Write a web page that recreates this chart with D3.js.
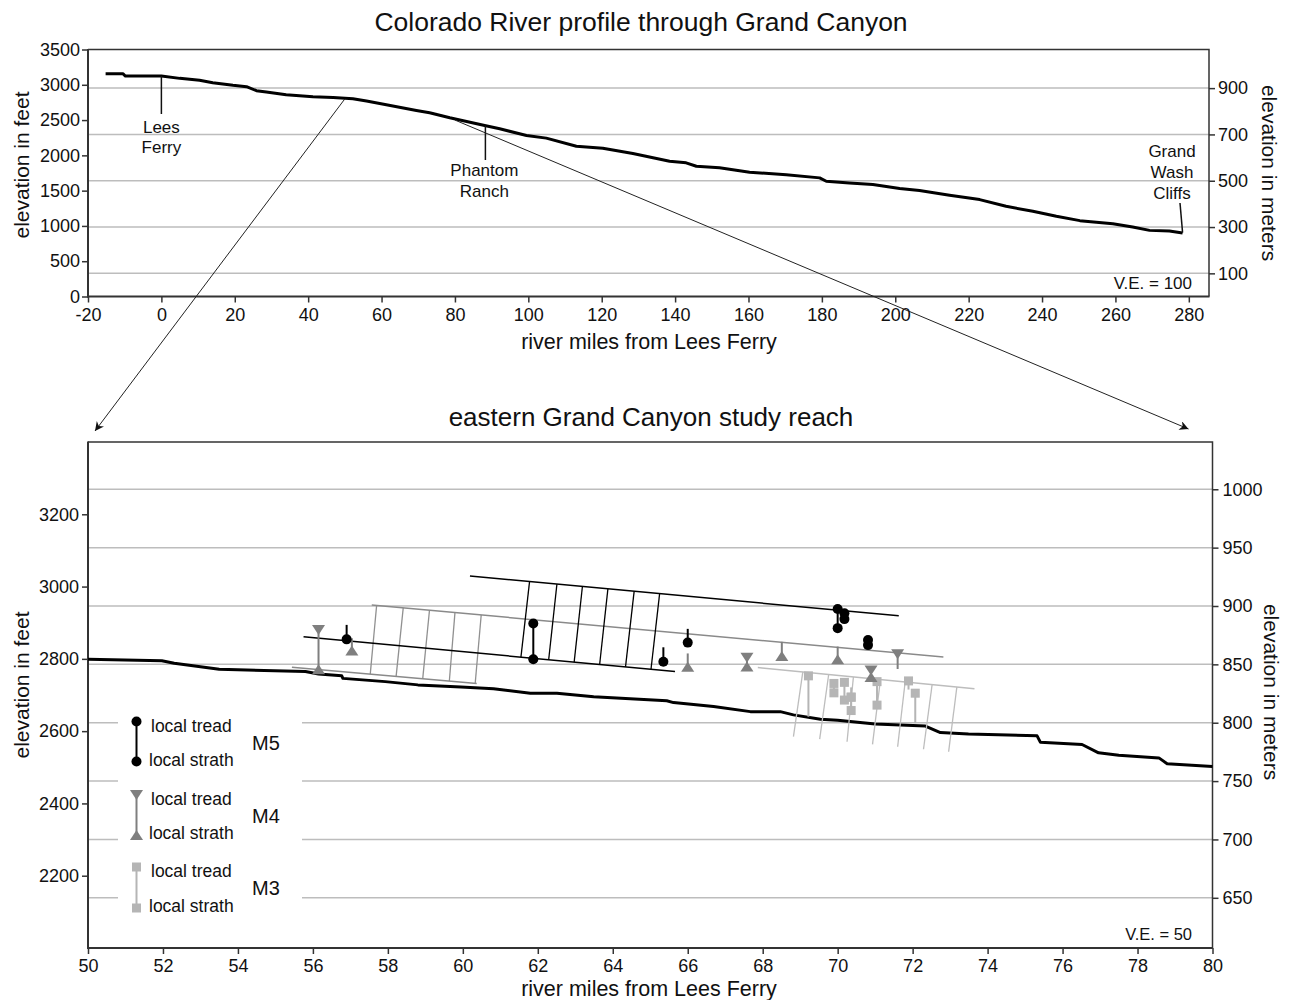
<!DOCTYPE html>
<html><head><meta charset="utf-8">
<script src="https://cdn.jsdelivr.net/npm/d3@7"></script>
<style>
body{margin:0;background:#fff;}
svg{display:block;}
text{font-family:"Liberation Sans",Arial,Helvetica,sans-serif;fill:#111;}
</style>
</head><body>
<svg id="c" width="1290" height="1000"></svg>
<script>
// ---------------- DATA ----------------
// Top chart: river profile through Grand Canyon (river mile, elevation ft)
const profileMiles = [-15.2,-10.5,-9.8,0,5,10.4,14,19.5,23.2,25.9,28.6,34,41.3,46.8,52.2,55.9,61.3,69.5,73.1,78.6,88.1,92.2,99.5,104.9,113.1,120.3,128.5,138.5,143,145.8,152.1,160.3,170.3,179.4,181.2,187.5,193.9,201.2,206.6,214.8,223,230.2,237.5,243.9,250.3,259.3,264.7,269.3,274.7,278.3];
const profileFeet  = [3157,3157,3124,3124,3091,3063,3030,2992,2973,2916,2897,2859,2831,2821,2803,2769,2718,2637,2604,2533,2424,2376,2282,2244,2130,2102,2026,1917,1894,1846,1823,1761,1724,1681,1633,1610,1586,1529,1501,1434,1373,1278,1207,1136,1075,1032,985,937,928,900];
const profileXTicks = [-20,0,20,40,60,80,100,120,140,160,180,200,220,240,260,280];
const profileFeetTicks = [0,500,1000,1500,2000,2500,3000,3500];
const profileMeterTicks = [100,300,500,700,900];

// Bottom chart: eastern Grand Canyon study reach
const reachMiles = [50,51.97,52.3,53.5,55.8,56.15,56.77,56.8,57.93,58.8,59.95,60.82,61.8,62.51,63.49,65.44,65.62,66.69,67.67,68.47,68.82,69.54,70.0,71.0,72.34,72.74,73.49,75.32,75.41,76.52,76.96,77.5,78.57,78.79,80.0];
const reachFeet  = [2799,2795,2788,2771,2765,2758,2753,2746,2737,2728,2722,2717,2705,2705,2695,2684,2679,2668,2654,2654,2645,2633,2630,2620,2614,2596,2592,2587,2569,2563,2540,2533,2526,2510,2502];
const reachXTicks = [50,52,54,56,58,60,62,64,66,68,70,72,74,76,78,80];
const reachFeetTicks = [2200,2400,2600,2800,3000,3200];
const reachMeterTicks = [650,700,750,800,850,900,950,1000];

// Terrace surfaces: [mile, feet] endpoints
const m5TreadLine  = [[60.19,3029],[71.63,2919]];
const m5StrathLine = [[55.75,2861],[65.66,2765]];
const m5HatchTop    = [61.78,62.51,63.19,63.87,64.57,65.25];
const m5HatchBottom = [61.55,62.29,62.97,63.65,64.34,65.02];

const m4TreadLine  = [[57.57,2949],[72.82,2805]];
const m4StrathLine = [[55.44,2777],[60.37,2732]];
const m4HatchTop    = [57.70,58.41,59.11,59.79,60.49];
const m4HatchBottom = [57.53,58.22,58.93,59.64,60.33];

const m3TreadLine  = [[67.87,2776],[73.65,2717]];
const m3BaseLine   = [[68.82,2585],[72.96,2543]];
const m3HatchTop    = [69.07,69.76,70.42,71.14,71.80,72.52,73.18];
const m3HatchBottom = [68.82,69.52,70.25,70.93,71.60,72.29,72.96];

// Local measurements: top = tread value, bottom = strath value, mark = which ends carry a symbol
const m5Points = [
  {mile:56.90, top:2894, bottom:2854, mark:"bottom"},
  {mile:61.88, top:2898, bottom:2799, mark:"both"},
  {mile:65.35, top:2832, bottom:2792, mark:"bottom"},
  {mile:66.00, top:2883, bottom:2845, mark:"bottom"},
  {mile:70.00, top:2938, bottom:2885, mark:"both"},
  {mile:70.18, top:2926, bottom:2910, mark:"both"},
  {mile:70.81, top:2852, bottom:2838, mark:"both"}
];
const m4Points = [
  {mile:56.15, top:2880, bottom:2771, mark:"both"},
  {mile:57.04, top:2857, bottom:2823, mark:"bottom"},
  {mile:66.00, top:2815, bottom:2778, mark:"bottom"},
  {mile:67.58, top:2803, bottom:2779, mark:"both"},
  {mile:68.51, top:2847, bottom:2808, mark:"bottom"},
  {mile:70.00, top:2834, bottom:2799, mark:"bottom"},
  {mile:70.89, top:2768, bottom:2750, mark:"both"},
  {mile:71.60, top:2813, bottom:2772, mark:"top"}
];
const m3Points = [
  {mile:69.22, top:2753, bottom:2640, mark:"top"},
  {mile:69.90, top:2732, bottom:2706, mark:"both"},
  {mile:70.18, top:2735, bottom:2686, mark:"both"},
  {mile:70.36, top:2721, bottom:2694, mark:"bottom"},
  {mile:70.36, top:2694, bottom:2657, mark:"both"},
  {mile:71.05, top:2737, bottom:2672, mark:"both"},
  {mile:71.89, top:2739, bottom:2715, mark:"top"},
  {mile:72.07, top:2705, bottom:2622, mark:"top"}
];

// ---------------- DRAW ----------------
const svg = d3.select("#c");
svg.append("rect").attr("width",1290).attr("height",1000).attr("fill","#fff");
const AX = "#333", GRID = "#bdbdbd";
const plain = d => String(d);

svg.append("defs").append("marker")
  .attr("id","arr").attr("viewBox","0 0 10 10").attr("refX",10).attr("refY",5)
  .attr("markerWidth",11).attr("markerHeight",9).attr("markerUnits","userSpaceOnUse")
  .attr("orient","auto")
  .append("path").attr("d","M0,0 L10,5 L0,10 L3,5 Z").attr("fill","#111");

function styleAxis(g, fs){
  g.select(".domain").remove();
  g.selectAll(".tick line").attr("stroke",AX).attr("stroke-width",1.5);
  g.selectAll(".tick text").attr("font-size",fs).attr("fill","#111")
   .style("font-family","'Liberation Sans',Arial,sans-serif");
}

// ===== TOP CHART =====
const xT = d3.scaleLinear([-20,285.5],[88,1209]);
const yT = d3.scaleLinear([0,3500],[296.5,49.5]);
const yTm = d3.scaleLinear([0,3500/3.28084],[296.5,49.5]);

const gTop = svg.append("g");
gTop.selectAll("line.grid").data(profileMeterTicks).enter().append("line")
  .attr("x1",88).attr("x2",1209).attr("y1",d=>yTm(d)).attr("y2",d=>yTm(d))
  .attr("stroke",GRID).attr("stroke-width",1.5);

gTop.append("g").attr("transform","translate(88,0)")
  .call(d3.axisLeft(yT).tickValues(profileFeetTicks).tickFormat(plain).tickSize(6).tickPadding(2))
  .call(g=>styleAxis(g,18));
gTop.append("g").attr("transform","translate(0,296.5)")
  .call(d3.axisBottom(xT).tickValues(profileXTicks).tickFormat(plain).tickSize(6).tickPadding(6))
  .call(g=>styleAxis(g,18));
gTop.append("g").attr("transform","translate(1209,0)")
  .call(d3.axisRight(yTm).tickValues(profileMeterTicks).tickFormat(plain).tickSize(6).tickPadding(3))
  .call(g=>styleAxis(g,18));

// frame
gTop.append("path").attr("d","M88,49.5 H1209 V296.5").attr("fill","none").attr("stroke",AX).attr("stroke-width",1.5);
gTop.append("line").attr("x1",88).attr("x2",88).attr("y1",49).attr("y2",297.5).attr("stroke",AX).attr("stroke-width",2);
gTop.append("line").attr("x1",87).attr("x2",1209.5).attr("y1",296.5).attr("y2",296.5).attr("stroke",AX).attr("stroke-width",2);

const profileLine = d3.line().x((d,i)=>xT(profileMiles[i])).y((d,i)=>yT(profileFeet[i]));
gTop.append("path").attr("d",profileLine(profileMiles)).attr("fill","none")
  .attr("stroke","#000").attr("stroke-width",3).attr("stroke-linejoin","round");

// annotations
const ann = (x,y,t,fs)=>gTop.append("text").attr("x",x).attr("y",y).attr("dy","0.35em")
  .attr("text-anchor","middle").attr("font-size",fs||17).text(t);
gTop.append("line").attr("x1",xT(0)).attr("x2",xT(0)).attr("y1",yT(3124)).attr("y2",114).attr("stroke","#111").attr("stroke-width",1.5);
ann(xT(0),127,"Lees"); ann(xT(0),147,"Ferry");
gTop.append("line").attr("x1",xT(88.3)).attr("x2",xT(88.3)).attr("y1",yT(2420)).attr("y2",160).attr("stroke","#111").attr("stroke-width",1.5);
ann(xT(88.3)-1,170,"Phantom"); ann(xT(88.3)-1,191,"Ranch");
ann(1172,151,"Grand"); ann(1172,172,"Wash"); ann(1172,193,"Cliffs");
gTop.append("line").attr("x1",1180).attr("x2",xT(278.3)).attr("y1",203).attr("y2",yT(905)).attr("stroke","#111").attr("stroke-width",1.5);
gTop.append("text").attr("x",1192).attr("y",283).attr("dy","0.35em").attr("text-anchor","end").attr("font-size",17).text("V.E. = 100");

svg.append("text").attr("x",641).attr("y",22).attr("dy","0.35em").attr("text-anchor","middle").attr("font-size",26.5)
  .text("Colorado River profile through Grand Canyon");
svg.append("text").attr("x",649).attr("y",341).attr("dy","0.35em").attr("text-anchor","middle").attr("font-size",21.5)
  .text("river miles from Lees Ferry");
svg.append("text").attr("transform","translate(22,165) rotate(-90)").attr("dy","0.35em").attr("text-anchor","middle").attr("font-size",21)
  .text("elevation in feet");
svg.append("text").attr("transform","translate(1269,173) rotate(90)").attr("dy","0.35em").attr("text-anchor","middle").attr("font-size",21)
  .text("elevation in meters");

// ===== BOTTOM CHART =====
const xB = d3.scaleLinear([50,80],[88,1212.5]);
const yB = d3.scaleLinear([2000,3400],[948,442]);
const yBm = d3.scaleLinear([607,1040.5],[948,442]);

const gBot = svg.append("g");
gBot.selectAll("line.grid").data(reachMeterTicks).enter().append("line")
  .attr("x1",88).attr("x2",1212.5).attr("y1",d=>yBm(d)).attr("y2",d=>yBm(d))
  .attr("stroke",GRID).attr("stroke-width",1.5);

// legend backdrop (interrupts grid lines)
gBot.append("rect").attr("x",118).attr("y",695).attr("width",184).attr("height",228).attr("fill","#fff");

gBot.append("g").attr("transform","translate(88,0)")
  .call(d3.axisLeft(yB).tickValues(reachFeetTicks).tickFormat(plain).tickSize(6).tickPadding(3))
  .call(g=>styleAxis(g,18));
gBot.append("g").attr("transform","translate(0,948)")
  .call(d3.axisBottom(xB).tickValues(reachXTicks).tickFormat(plain).tickSize(6).tickPadding(5))
  .call(g=>styleAxis(g,18));
gBot.append("g").attr("transform","translate(1212.5,0)")
  .call(d3.axisRight(yBm).tickValues(reachMeterTicks).tickFormat(plain).tickSize(6).tickPadding(4))
  .call(g=>styleAxis(g,18));

gBot.append("path").attr("d","M88,442 H1212.5 V948").attr("fill","none").attr("stroke",AX).attr("stroke-width",1.5);
gBot.append("line").attr("x1",88).attr("x2",88).attr("y1",441.5).attr("y2",949).attr("stroke",AX).attr("stroke-width",2);
gBot.append("line").attr("x1",87).attr("x2",1213).attr("y1",948).attr("y2",948).attr("stroke",AX).attr("stroke-width",2);

// river
const reachLine = d3.line().x((d,i)=>xB(reachMiles[i])).y((d,i)=>yB(reachFeet[i]));
gBot.append("path").attr("d",reachLine(reachMiles)).attr("fill","none")
  .attr("stroke","#000").attr("stroke-width",3).attr("stroke-linejoin","round");

// terraces
const at = (line,m)=>line[0][1]+(m-line[0][0])*(line[1][1]-line[0][1])/(line[1][0]-line[0][0]);
function surface(line,color,w){
  gBot.append("line").attr("x1",xB(line[0][0])).attr("y1",yB(line[0][1]))
    .attr("x2",xB(line[1][0])).attr("y2",yB(line[1][1]))
    .attr("stroke",color).attr("stroke-width",w);
}
function hatch(topLine,botLine,tops,bots,color,w){
  tops.forEach((t,i)=>{
    const b = bots[i];
    gBot.append("line").attr("x1",xB(t)).attr("y1",yB(at(topLine,t)))
      .attr("x2",xB(b)).attr("y2",yB(at(botLine,b)))
      .attr("stroke",color).attr("stroke-width",w);
  });
}
const C5="#000", C4="#7f7f7f", C3="#b5b5b5";
hatch(m3TreadLine,m3BaseLine,m3HatchTop,m3HatchBottom,"#bdbdbd",1.3);
surface(m3TreadLine,"#bdbdbd",1.5);
hatch(m4TreadLine,m4StrathLine,m4HatchTop,m4HatchBottom,"#909090",1.3);
surface(m4TreadLine,"#8a8a8a",1.5);
surface(m4StrathLine,"#8a8a8a",1.5);
hatch(m5TreadLine,m5StrathLine,m5HatchTop,m5HatchBottom,"#000",1.3);
surface(m5TreadLine,"#000",1.5);
surface(m5StrathLine,"#000",1.5);

// symbols
function circle(g,x,y,c){ g.append("circle").attr("cx",x).attr("cy",y).attr("r",5).attr("fill",c); }
function triUp(g,x,y,c){ g.append("path").attr("d",`M${x-6.5},${y+5} L${x+6.5},${y+5} L${x},${y-5} Z`).attr("fill",c); }
function triDown(g,x,y,c){ g.append("path").attr("d",`M${x-6.5},${y-5} L${x+6.5},${y-5} L${x},${y+5} Z`).attr("fill",c); }
function square(g,x,y,c){ g.append("rect").attr("x",x-4.5).attr("y",y-4.5).attr("width",9).attr("height",9).attr("fill",c); }

function points(data,color,topSym,botSym){
  data.forEach(d=>{
    const x=xB(d.mile), y1=yB(d.top), y2=yB(d.bottom);
    gBot.append("line").attr("x1",x).attr("x2",x).attr("y1",y1).attr("y2",y2).attr("stroke",color).attr("stroke-width",2);
    if(d.mark==="both"||d.mark==="top") topSym(gBot,x,y1,color);
    if(d.mark==="both"||d.mark==="bottom") botSym(gBot,x,y2,color);
  });
}
points(m3Points,C3,square,square);
points(m4Points,C4,triDown,triUp);
points(m5Points,C5,circle,circle);

// legend
const lg = gBot.append("g");
const lx = 136.5;
function legendPair(yTop,yBot,color,topSym,botSym,label,ly){
  lg.append("line").attr("x1",lx).attr("x2",lx).attr("y1",yTop).attr("y2",yBot).attr("stroke",color).attr("stroke-width",2);
  topSym(lg,lx,yTop,color); botSym(lg,lx,yBot,color);
  lg.append("text").attr("x",151).attr("y",yTop+4).attr("dy","0.35em").attr("font-size",17.5).text("local tread");
  lg.append("text").attr("x",149).attr("y",yBot-2).attr("dy","0.35em").attr("font-size",17.5).text("local strath");
  lg.append("text").attr("x",252).attr("y",ly).attr("dy","0.35em").attr("font-size",20).text(label);
}
legendPair(721.5,761.5,C5,circle,circle,"M5",743);
legendPair(795,835,C4,triDown,triUp,"M4",816);
legendPair(867,908,C3,square,square,"M3",888);

gBot.append("text").attr("x",1192).attr("y",934).attr("dy","0.35em").attr("text-anchor","end").attr("font-size",16.5).text("V.E. = 50");

svg.append("text").attr("x",651).attr("y",417).attr("dy","0.35em").attr("text-anchor","middle").attr("font-size",26)
  .text("eastern Grand Canyon study reach");
svg.append("text").attr("x",649).attr("y",988).attr("dy","0.35em").attr("text-anchor","middle").attr("font-size",21.5)
  .text("river miles from Lees Ferry");
svg.append("text").attr("transform","translate(22,685) rotate(-90)").attr("dy","0.35em").attr("text-anchor","middle").attr("font-size",21)
  .text("elevation in feet");
svg.append("text").attr("transform","translate(1271,692) rotate(90)").attr("dy","0.35em").attr("text-anchor","middle").attr("font-size",21)
  .text("elevation in meters");

// connector arrows from the profile to the enlarged reach
svg.append("line").attr("x1",xT(50)).attr("y1",yT(2800)).attr("x2",xB(50)+7).attr("y2",431)
  .attr("stroke","#222").attr("stroke-width",1).attr("marker-end","url(#arr)");
svg.append("line").attr("x1",xT(80)).attr("y1",yT(2500)).attr("x2",xB(80)-24).attr("y2",429)
  .attr("stroke","#222").attr("stroke-width",1).attr("marker-end","url(#arr)");
</script>
</body></html>
